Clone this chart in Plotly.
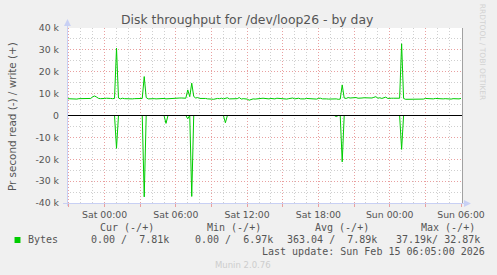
import pandas as pd
import plotly.graph_objects as go

# ---------------- data ----------------
start_time = "2026-02-13 20:50"
n_points = 200  # 10-minute samples up to Sun 06:00

# write bytes per second (thousands), 10-min samples from Fri 20:50
write_k = [
    7.7, 7.6, 7.7, 7.6, 7.6, 7.5, 7.7, 7.7, 7.8, 7.6, 7.7, 7.7,
    7.8, 8.6, 8.9, 8.4, 7.8, 7.7, 7.6, 7.8, 7.9, 7.7, 7.8, 7.7,
    7.8, 30.8, 8.0, 7.6, 7.9, 7.7, 7.6, 7.8, 7.7, 7.6, 7.7, 7.7,
    7.7, 7.6, 7.8, 17.8, 8.2, 7.6, 7.7, 7.8, 7.7, 7.6, 7.7, 7.8,
    7.7, 7.8, 7.6, 7.7, 7.8, 7.7, 7.9, 8.0, 8.0, 8.0, 8.0, 8.0,
    7.9, 11.7, 8.6, 14.8, 8.7, 8.0, 8.2, 7.8, 7.9, 7.7, 7.8, 7.6,
    7.7, 7.5, 7.4, 7.7, 7.8, 7.7, 7.9, 7.6, 7.7, 8.1, 7.6, 7.7,
    7.8, 7.6, 7.7, 8.2, 7.5, 7.7, 7.6, 7.5, 7.0, 7.4, 7.6, 7.5,
    7.7, 7.6, 7.8, 7.9, 7.7, 7.5, 7.6, 7.8, 7.7, 7.6, 7.9, 7.8,
    7.8, 7.6, 7.4, 7.5, 7.7, 7.8, 8.0, 7.6, 7.7, 7.9, 7.6, 7.5,
    7.6, 7.8, 7.7, 7.8, 7.6, 7.7, 7.5, 7.8, 7.9, 7.6, 7.7, 7.6,
    7.5, 7.6, 7.7, 7.5, 7.6, 7.4, 7.5, 14.0, 8.0, 7.8, 8.2, 8.0,
    8.1, 8.0, 8.2, 7.9, 8.1, 8.0, 8.1, 8.0, 7.9, 8.1, 8.0, 8.3,
    8.6, 7.9, 8.1, 7.8, 8.0, 8.4, 7.8, 8.0, 7.9, 7.9, 8.0, 7.9,
    7.9, 32.8, 7.8, 7.4, 7.4, 7.3, 7.4, 7.4, 7.3, 7.5, 7.6, 7.4,
    7.5, 7.8, 7.7, 7.6, 7.5, 7.6, 7.8, 7.7, 7.6, 7.5, 7.6, 7.7,
    7.6, 7.8, 7.5, 7.7, 7.6, 7.8, 7.6, 7.8,
]

# read bytes per second (thousands, drawn negative); zero elsewhere
read_times = ["2026-02-14 01:00", "2026-02-14 03:20", "2026-02-14 05:10",
              "2026-02-14 07:00", "2026-02-14 07:20", "2026-02-14 10:10",
              "2026-02-14 19:30", "2026-02-14 20:00", "2026-02-15 01:00"]
read_k = [-15.0, -37.2, -3.6, -1.5, -37.0, -3.3, -0.5, -21.2, -15.5]

y_tick_vals = [40000, 30000, 20000, 10000, 0, -10000, -20000, -30000, -40000]
y_tick_text = ["40 k", "30 k", "20 k", "10 k", "0", "-10 k", "-20 k", "-30 k", "-40 k"]

x_tick_vals = ["2026-02-13 21:00", "2026-02-14 00:00", "2026-02-14 03:00",
               "2026-02-14 06:00", "2026-02-14 09:00", "2026-02-14 12:00",
               "2026-02-14 15:00", "2026-02-14 18:00", "2026-02-14 21:00",
               "2026-02-15 00:00", "2026-02-15 03:00", "2026-02-15 06:00"]
x_tick_text = ["", "Sat 00:00", "", "Sat 06:00", "", "Sat 12:00", "",
               "Sat 18:00", "", "Sun 00:00", "", "Sun 06:00"]

legend_headers = ["Cur (-/+)", "Min (-/+)", "Avg (-/+)", "Max (-/+)"]
legend_values = ["0.00 /  7.81k", "0.00 /  6.97k", "363.04 /  7.89k", "37.19k/ 32.87k"]
series_name = "Bytes"
last_update = "Last update: Sun Feb 15 06:05:00 2026"

# ---------------- build series ----------------
times = pd.date_range(start_time, periods=n_points, freq="10min")
write = pd.Series([v * 1000 for v in write_k], index=times)
read = pd.Series(0.0, index=times)
for t, v in zip(read_times, read_k):
    read[pd.Timestamp(t)] = v * 1000

# ---------------- layout geometry (pixels) ----------------
W, H = 497, 275
L, R, T, B = 67, 466, 28, 203


def px(x):
    return (x - L) / (R - L)


def py(y):
    return (B - y) / (B - T)


GREEN = "#00CC00"
MGRID = "#E9A0A0"
GRID = "#CFCFCF"
AXIS = "#C8D0F4"
FONT = "#555555"
DOT = "1px,2px"

fig = go.Figure()
fig.add_trace(go.Scatter(x=times, y=read.values, mode="lines",
                         line=dict(color=GREEN, width=1), showlegend=False,
                         hoverinfo="skip"))
fig.add_trace(go.Scatter(x=times, y=write.values, mode="lines",
                         line=dict(color=GREEN, width=1), showlegend=False,
                         hoverinfo="skip"))

fig.update_layout(
    width=W, height=H, autosize=False,
    margin=dict(l=L, r=W - R, t=T, b=H - B, pad=0),
    paper_bgcolor="#F0F0F0", plot_bgcolor="#FFFFFF",
    font=dict(family="DejaVu Sans", size=9.33, color=FONT),
    showlegend=False,
)

fig.update_xaxes(
    type="date", range=["2026-02-13 20:50", "2026-02-15 06:05"],
    tickmode="array", tickvals=x_tick_vals, ticktext=x_tick_text,
    showgrid=True, gridcolor=MGRID, griddash=DOT, gridwidth=1,
    ticks="outside", ticklen=3, tickcolor=MGRID, tickwidth=1,
    showline=False, zeroline=False,
    tickfont=dict(family="DejaVu Sans", size=9.33, color=FONT),
    minor=dict(tickmode="linear", tick0="2026-02-13 21:00", dtick=3600000,
               showgrid=True, gridcolor=GRID, griddash=DOT, gridwidth=1, ticks=""),
)
fig.update_yaxes(
    range=[-40000, 40000], tickmode="array", tickvals=y_tick_vals,
    ticktext=y_tick_text,
    showgrid=True, gridcolor=MGRID, griddash=DOT, gridwidth=1,
    ticks="", showline=False, zeroline=False, ticklabelstandoff=7,
    tickfont=dict(family="DejaVu Sans", size=9.33, color=FONT),
    minor=dict(tickmode="linear", tick0=0, dtick=5000, showgrid=True,
               gridcolor=GRID, griddash=DOT, gridwidth=1, ticks=""),
)

shapes = []
# zero line (black, above data)
shapes.append(dict(type="line", xref="paper", yref="y", x0=0, x1=1, y0=0, y1=0,
                   line=dict(color="#000000", width=1), layer="above"))
# right frame line
shapes.append(dict(type="line", xref="paper", yref="paper", x0=px(466.5), x1=px(466.5),
                   y0=py(203), y1=py(28), line=dict(color="#A0A0A0", width=1),
                   layer="above"))
# left axis + arrow
shapes.append(dict(type="line", xref="paper", yref="paper", x0=px(67.5), x1=px(67.5),
                   y0=py(206), y1=py(24), line=dict(color=AXIS, width=1), layer="above"))
shapes.append(dict(type="path", xref="paper", yref="paper",
                   path=f"M {px(64)} {py(26)} L {px(71)} {py(26)} L {px(67.5)} {py(19)} Z",
                   fillcolor=AXIS, line=dict(width=0), layer="above"))
# bottom axis + arrow
shapes.append(dict(type="line", xref="paper", yref="paper", x0=px(63), x1=px(470),
                   y0=py(203.5), y1=py(203.5), line=dict(color=AXIS, width=1),
                   layer="above"))
shapes.append(dict(type="path", xref="paper", yref="paper",
                   path=f"M {px(468)} {py(200)} L {px(468)} {py(207)} L {px(475)} {py(203.5)} Z",
                   fillcolor=AXIS, line=dict(width=0), layer="above"))
# legend colour swatch
shapes.append(dict(type="rect", xref="paper", yref="paper",
                   x0=px(14), x1=px(20), y0=py(243), y1=py(237),
                   fillcolor=GREEN, line=dict(width=0)))
fig.update_layout(shapes=shapes)

ann = []


def text(x, y, s, size=10, family="DejaVu Sans Mono", color=FONT, xanchor="left",
         angle=0):
    ann.append(dict(xref="paper", yref="paper", x=px(x), y=py(y), text=s,
                    showarrow=False, xanchor=xanchor, yanchor="middle",
                    textangle=angle, font=dict(family=family, size=size, color=color)))


text(248.5, 19.5, "Disk throughput for /dev/loop26 - by day", size=12.4,
     family="DejaVu Sans", color="#555555", xanchor="center")
text(11.5, 117, "Pr second read (-) / write (+)", size=10.4, family="DejaVu Sans",
     xanchor="center", angle=-90)
text(487.5, 52, "RRDTOOL / TOBI OETIKER", size=7.5, family="DejaVu Sans",
     color="#D2D2D2", xanchor="center", angle=90)

header_x = [98.5, 206.5, 315, 422.5]
for hx, h in zip(header_x, legend_headers):
    text(hx, 227.5, h.replace(" ", "\u00a0"))
text(26, 239.5, series_name)
value_x = [89, 194.5, 287.5, 397.5]
for vx, v in zip(value_x, legend_values):
    text(vx, 239.5, v.replace(" ", "\u00a0"))
text(261.5, 251, last_update.replace(" ", "\u00a0"))
text(245, 264.5, "Munin 2.0.76", size=8.5, family="DejaVu Sans", color="#CDCDCD",
     xanchor="center")
fig.update_layout(annotations=ann)

fig.write_html("out.html")
